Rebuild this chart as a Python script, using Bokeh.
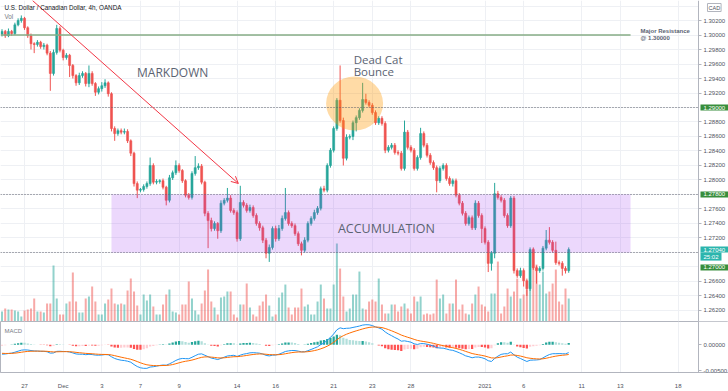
import numpy as np
from bokeh.plotting import figure
from bokeh.layouts import column
from bokeh.models import (Range1d, FixedTicker, PrintfTickFormatter, Label,
                          BoxAnnotation, Arrow, OpenHead)
from bokeh.embed import file_html
from bokeh.resources import INLINE

# ---------------- data (4h USD/CAD bars) ----------------
first_open = 1.3001
close = [
    # late Nov -> Dec 3
    1.3005, 1.2999, 1.3005, 1.3002, 1.3014, 1.3020, 1.3023, 1.3010, 1.2999, 1.2988,
    1.2987, 1.2990, 1.2984, 1.2986, 1.2975, 1.2947, 1.2976, 1.3009, 1.2979, 1.2969,
    1.2972, 1.2958, 1.2944, 1.2934, 1.2944, 1.2947, 1.2933, 1.2947, 1.2933, 1.2921,
    1.2926, 1.2930, 1.2934, 1.2919, 1.2871, 1.2864,
    # Dec 3 -> Dec 15
    1.2868, 1.2866, 1.2867, 1.2854, 1.2837, 1.2795, 1.2786, 1.2787, 1.2791, 1.2795,
    1.2820, 1.2797, 1.2798, 1.2799, 1.2790, 1.2772, 1.2803, 1.2810, 1.2820, 1.2813,
    1.2799, 1.2779, 1.2776, 1.2809, 1.2817, 1.2819, 1.2797, 1.2754, 1.2744, 1.2733,
    1.2740, 1.2730, 1.2768, 1.2772, 1.2775, 1.2758,
    # Dec 15 -> Dec 22
    1.2755, 1.2719, 1.2769, 1.2765, 1.2758, 1.2762, 1.2751, 1.2740, 1.2734, 1.2717,
    1.2699, 1.2707, 1.2733, 1.2719, 1.2733, 1.2747, 1.2755, 1.2740, 1.2737, 1.2726,
    1.2712, 1.2703, 1.2717, 1.2740, 1.2747, 1.2755, 1.2761, 1.2788, 1.2786, 1.2820,
    1.2841, 1.2871, 1.2910, 1.2882, 1.2830, 1.2859,
    # Dec 22 -> Dec 31
    1.2860, 1.2879, 1.2886, 1.2896, 1.2911, 1.2907, 1.2903, 1.2893, 1.2879, 1.2885,
    1.2878, 1.2841, 1.2845, 1.2848, 1.2838, 1.2837, 1.2816, 1.2866, 1.2845, 1.2841,
    1.2816, 1.2831, 1.2864, 1.2848, 1.2834, 1.2824, 1.2817, 1.2799, 1.2816, 1.2820,
    1.2802, 1.2795, 1.2799, 1.2779, 1.2768,
    # Dec 31 -> Jan 8
    1.2754, 1.2740, 1.2748, 1.2734, 1.2768, 1.2751, 1.2733, 1.2714, 1.2685, 1.2699,
    1.2781, 1.2776, 1.2772, 1.2751, 1.2737, 1.2775, 1.2675, 1.2668, 1.2675, 1.2661,
    1.2650, 1.2704, 1.2679, 1.2675, 1.2678, 1.2706, 1.2717, 1.2714, 1.2703, 1.2686,
    1.2685, 1.2678, 1.2675, 1.2704,
]
upper_wick_pips = [
    3, 2, 4, 2, 3, 3, 4, 2, 2, 3, 2, 3, 2, 3, 2, 3, 4, 5, 3, 2,
    3, 2, 2, 2, 4, 3, 2, 11, 3, 2, 3, 5, 5, 2, 2, 3,
    3, 3, 4, 3, 2, 2, 3, 2, 3, 3, 11, 3, 3, 2, 3, 2, 4, 3, 7, 3,
    2, 2, 3, 3, 16, 4, 3, 2, 3, 4, 3, 2, 4, 3, 14, 4,
    3, 3, 23, 3, 3, 4, 3, 3, 3, 3, 3, 4, 3, 4, 5, 4, 34, 3, 3, 3,
    3, 3, 4, 3, 3, 4, 3, 3, 4, 3, 3, 3, 3, 48, 4, 4,
    3, 3, 3, 3, 23, 8, 3, 3, 3, 3, 3, 3, 3, 3, 3, 3, 3, 16, 3, 3,
    3, 3, 8, 3, 3, 3, 3, 3, 3, 3, 3, 3, 3, 3, 3,
    3, 3, 3, 3, 4, 3, 3, 3, 3, 3, 15, 4, 3, 3, 3, 3, 3, 3, 4, 3,
    3, 3, 3, 3, 3, 3, 14, 18, 3, 12, 3, 3, 3, 3,
]
lower_wick_pips = [
    3, 3, 2, 3, 2, 2, 3, 3, 3, 8, 12, 3, 3, 4, 3, 24, 3, 3, 3, 4,
    3, 16, 4, 4, 3, 3, 4, 5, 3, 5, 3, 4, 3, 4, 4, 10,
    3, 3, 3, 3, 4, 4, 11, 3, 3, 3, 3, 3, 3, 3, 3, 7, 3, 3, 3, 3,
    3, 3, 3, 3, 3, 3, 3, 4, 38, 4, 3, 11, 3, 3, 3, 3,
    3, 4, 3, 3, 3, 3, 3, 3, 4, 4, 7, 12, 3, 4, 3, 3, 3, 3, 3, 3,
    3, 7, 3, 3, 3, 3, 3, 3, 3, 3, 3, 3, 3, 3, 10, 3,
    3, 5, 12, 3, 3, 3, 3, 3, 3, 3, 3, 4, 3, 3, 3, 3, 3, 3, 3, 3,
    3, 3, 3, 3, 3, 3, 3, 16, 3, 3, 3, 3, 4, 3, 3,
    3, 3, 3, 3, 3, 3, 20, 3, 12, 10, 7, 3, 3, 3, 3, 3, 4, 3, 3, 8,
    10, 3, 3, 18, 3, 3, 3, 3, 3, 3, 3, 10, 4, 3,
]
volume = [
    5000, 6500, 6000, 6000, 5500, 5000, 2500, 5500, 6000, 6500,
    11500, 5000, 5000, 4500, 9000, 9000, 28000, 11500, 3500, 3500,
    9000, 10000, 24500, 10000, 4500, 4500, 11500, 12500, 17500, 10000,
    3500, 3500, 9000, 11000, 16500, 9000, 8500, 9000, 8500, 15500,
    21500, 15000, 8000, 3500, 13500, 10500, 13500, 7500, 3500, 3500,
    8500, 13500, 16000, 5000, 4500, 3500, 8500, 8500, 20000, 11500,
    5500, 3500, 9000, 15500, 26000, 10000, 7000, 3500, 12000, 12500,
    15000, 15000, 3500, 2000, 8500, 8500, 19000, 7000, 3500, 2500,
    8000, 10000, 13500, 8000, 2500, 3500, 12000, 14500, 18500, 7000,
    3500, 7000, 7000,
    16500, 7500, 8500, 3500, 3500, 10000, 18500, 11500, 6500, 6500,
    18500, 39000, 26500, 12500, 5000, 6500, 13500, 13500, 25000, 6500,
    6000, 10000, 11000, 10000, 21500, 8500, 4000, 4000, 8500, 8500,
    5000, 7500, 9000, 6500, 4000, 12500, 10000, 12500, 3500, 4000,
    3500, 4000, 21000, 11500, 13500, 4000, 9000, 9000, 21000, 6000,
    8500, 4000, 3500, 9000, 13500, 17500, 8500, 7500, 5000, 14000,
    14000, 30000, 4000, 7500, 16500, 12500, 15000, 21500, 11500, 13500,
    16000, 19000, 36500, 28500, 18500, 25000, 14000, 15000, 19000, 26000,
    10000, 8500, 16500, 11500,
]
# MACD(12, 26, 9) state at the first visible bar
ema_fast_start = 1.3012
ema_slow_start = 1.3031
signal_start = -0.0016

tick_bars = [7, 19, 31, 43, 55, 73, 85, 103, 115, 127, 150, 162, 180, 192, 210]
tick_names = ["27", "Dec", "3", "7", "9", "14", "16", "21", "23", "28", "2021", "6", "11", "13", "18"]
price_label_ticks = [1.262, 1.264, 1.266, 1.272, 1.274, 1.276, 1.280, 1.282, 1.284, 1.286,
                     1.288, 1.292, 1.294, 1.296, 1.298, 1.300, 1.302]
price_grid_ticks = [1.262, 1.264, 1.266, 1.268, 1.270, 1.272, 1.274, 1.276, 1.278, 1.280,
                    1.282, 1.284, 1.286, 1.288, 1.290, 1.292, 1.294, 1.296, 1.298, 1.300,
                    1.302, 1.304]
macd_ticks = [-0.005, 0.0]

levels_dotted = [1.290, 1.278, 1.270]
resistance_level = 1.300
last_price = 1.2704

assert len(close) == len(upper_wick_pips) == len(lower_wick_pips) == len(volume)

# ---------------- derived series ----------------
c = np.array(close)
o = np.concatenate([[first_open], c[:-1]])
hi = np.maximum(o, c) + np.array(upper_wick_pips) * 1e-4
lo = np.minimum(o, c) - np.array(lower_wick_pips) * 1e-4
idx = np.arange(len(c))
UP, DN = "#26a69a", "#ef5350"
col = np.where(c >= o, UP, DN)


def ema(series, n, start):
    a = 2.0 / (n + 1)
    out, prev = [], start
    for v in series:
        prev = prev + a * (v - prev)
        out.append(prev)
    return np.array(out)


macd = ema(c, 12, ema_fast_start) - ema(c, 26, ema_slow_start)
signal = ema(macd, 9, signal_start)
hist = macd - signal
prev_h = np.concatenate([[hist[0]], hist[:-1]])
hcol = np.where(hist >= 0, np.where(hist >= prev_h, "#26a69a", "#b2dfdb"),
                np.where(hist < prev_h, "#ff5252", "#ffcdd2"))

# ---------------- layout ----------------
W = 728
GRID = "#eef0f4"
AXC = "#b2b5be"
LBL = "#50535e"
TXT = "#5b6372"
X0, X_END, X_AX = -0.466, 225.62, 216.3      # price axis sits at bar 216.3
x_range = Range1d(X0, X_END)


def style_price_axis(ax):
    ax.fixed_location = X_AX
    ax.axis_line_color = AXC
    ax.major_tick_line_color = AXC
    ax.major_tick_out = 3
    ax.major_tick_in = 0
    ax.minor_tick_line_color = None
    ax.major_label_standoff = 2
    ax.major_label_text_font = "Liberation Sans"
    ax.major_label_text_font_size = "6px"
    ax.major_label_text_color = LBL
    ax.formatter = PrintfTickFormatter(format="%.5f")


p = figure(width=W, height=321, x_range=x_range, y_range=Range1d(1.26048, 1.30476),
           output_backend="svg", toolbar_location=None, x_axis_location=None,
           y_axis_location="right", min_border_left=0, min_border_right=0,
           min_border_top=0, min_border_bottom=0, outline_line_color=None,
           background_fill_color="white", border_fill_color="white")
p.extra_y_ranges = {"vol": Range1d(0, max(volume) * 4.12)}

p.xgrid.ticker = FixedTicker(ticks=tick_bars)
p.xgrid.grid_line_color = GRID
p.ygrid.ticker = FixedTicker(ticks=price_grid_ticks)
p.ygrid.grid_line_color = GRID
ya = p.yaxis[0]
ya.ticker = FixedTicker(ticks=price_label_ticks)
style_price_axis(ya)
# white strip behind the price scale (hides grid there)
p.add_layout(BoxAnnotation(left=X_AX, fill_color="white", fill_alpha=1.0,
                           line_color=None, level="underlay"))

# volume
p.vbar(x=idx, top=volume, bottom=0, width=0.62, fill_color=col, fill_alpha=0.5,
       line_color=None, y_range_name="vol")
# candles
p.segment(x0=idx, y0=lo, x1=idx, y1=hi, line_color=col, line_width=1)
p.vbar(x=idx, top=np.maximum(o, c), bottom=np.minimum(o, c), width=0.62,
       fill_color=col, line_color=col, line_width=0.6)

# major resistance line
p.segment(x0=[X0], y0=[resistance_level], x1=[195.2], y1=[resistance_level],
          line_color="#86ad86", line_width=1.6)

# dead cat ellipse
p.ellipse(x=[109.5], y=[1.29055], width=17.7, height=0.00745,
          fill_color="#ff9800", fill_alpha=0.35, line_color=None)

# horizontal dotted levels
p.segment(x0=[X0] * len(levels_dotted), y0=levels_dotted,
          x1=[X_AX] * len(levels_dotted), y1=levels_dotted,
          line_color="#5d606b", line_dash="1 2", line_width=1)

# accumulation box
p.add_layout(BoxAnnotation(left=34.0, right=195.2, bottom=1.270, top=1.278,
                           fill_color="#a03cf0", fill_alpha=0.2, line_color=None))

p.add_layout(Arrow(end=OpenHead(size=7, line_color="#f23645", line_width=1),
                   x_start=9.47, y_start=1.30476, x_end=73.4, y_end=1.27952,
                   line_color="#f23645", line_width=1))


def lab(fig, x, y, text, size, color=TXT, style="normal", align="left",
        baseline="middle", font="Open Sans", dx=0, dy=0, **kw):
    fig.add_layout(Label(x=x, y=y, text=text, text_font=font, text_font_size=size,
                         text_color=color, text_font_style=style, text_align=align,
                         text_baseline=baseline, x_offset=dx, y_offset=dy, **kw))


lab(p, X0, 1.30476, "U.S. Dollar / Canadian Dollar, 4h, OANDA", "6.3px",
    color="#131722", baseline="top", font="Liberation Sans", dx=4, dy=-3)
lab(p, X0, 1.30476, "Vol", "6.3px", color="#787b86", baseline="top",
    font="Liberation Sans", dx=4, dy=-12)
lab(p, 53.0, 1.29483, "MARKDOWN", "12px", align="center")
lab(p, 119.4, 1.27331, "ACCUMULATION", "12.5px", align="center")
lab(p, 109.2, 1.29662, "Dead Cat", "11.5px")
lab(p, 109.2, 1.29497, "Bounce", "11.5px")
lab(p, 198.3, 1.30062, "Major Resistance", "6px", style="bold", font="Liberation Sans")
lab(p, 198.3, 1.29952, "@ 1.30000", "6px", style="bold", font="Liberation Sans")


def tag(y, text, color, dy=0):
    p.add_layout(Label(x=X_AX, y=y, text=text, text_font="Liberation Sans",
                       text_font_size="6px", text_color="white", text_align="left",
                       text_baseline="middle", x_offset=2, y_offset=dy,
                       background_fill_color=color, padding=(3, 1)))


tag(1.290, "1.29000", "#388e3c")
tag(1.278, "1.27800", "#388e3c")
tag(1.270, "1.27000", "#388e3c", dy=-15)
tag(last_price, "1.27040", "#2cb5ad")
tag(last_price, "25:02", "#2cb5ad", dy=-7)
p.add_layout(Label(x=X_AX, y=1.30476, text="CAD", text_font="Liberation Sans",
                   text_font_size="5.5px", text_color=LBL, text_align="left",
                   text_baseline="top", x_offset=9, y_offset=-3,
                   background_fill_color="white", border_line_color=AXC, padding=1))

# ---------------- MACD pane ----------------
q = figure(width=W, height=70, x_range=x_range, y_range=Range1d(-0.00534, 0.00448),
           output_backend="svg", toolbar_location=None, y_axis_location="right",
           min_border_left=0, min_border_right=0, min_border_top=0,
           min_border_bottom=13, outline_line_color=AXC,
           background_fill_color="white", border_fill_color="white")
q.add_layout(BoxAnnotation(left=X_AX, fill_color="white", fill_alpha=1.0,
                           line_color=None, level="underlay"))
q.vbar(x=idx, top=hist, bottom=0, width=0.7, fill_color=hcol, line_color=None)
q.line(idx, macd, line_color="#2196f3", line_width=1)
q.line(idx, signal, line_color="#ff6d00", line_width=1)

xa = q.xaxis[0]
xa.ticker = FixedTicker(ticks=tick_bars)
xa.major_label_overrides = {b: n for b, n in zip(tick_bars, tick_names)}
xa.axis_line_color = AXC
xa.major_tick_line_color = None
xa.minor_tick_line_color = None
xa.major_label_standoff = 4
xa.major_label_text_font = "Liberation Sans"
xa.major_label_text_font_size = "6px"
xa.major_label_text_color = LBL
qy = q.yaxis[0]
qy.ticker = FixedTicker(ticks=macd_ticks)
style_price_axis(qy)
q.xgrid.grid_line_color = GRID
q.ygrid.grid_line_color = None
lab(q, X0, 0.00448, "MACD", "6px", color="#787b86", baseline="top",
    font="Liberation Sans", dx=4, dy=-6)

layout = column(p, q, spacing=0)
open("out.html", "w").write(file_html(layout, INLINE))
